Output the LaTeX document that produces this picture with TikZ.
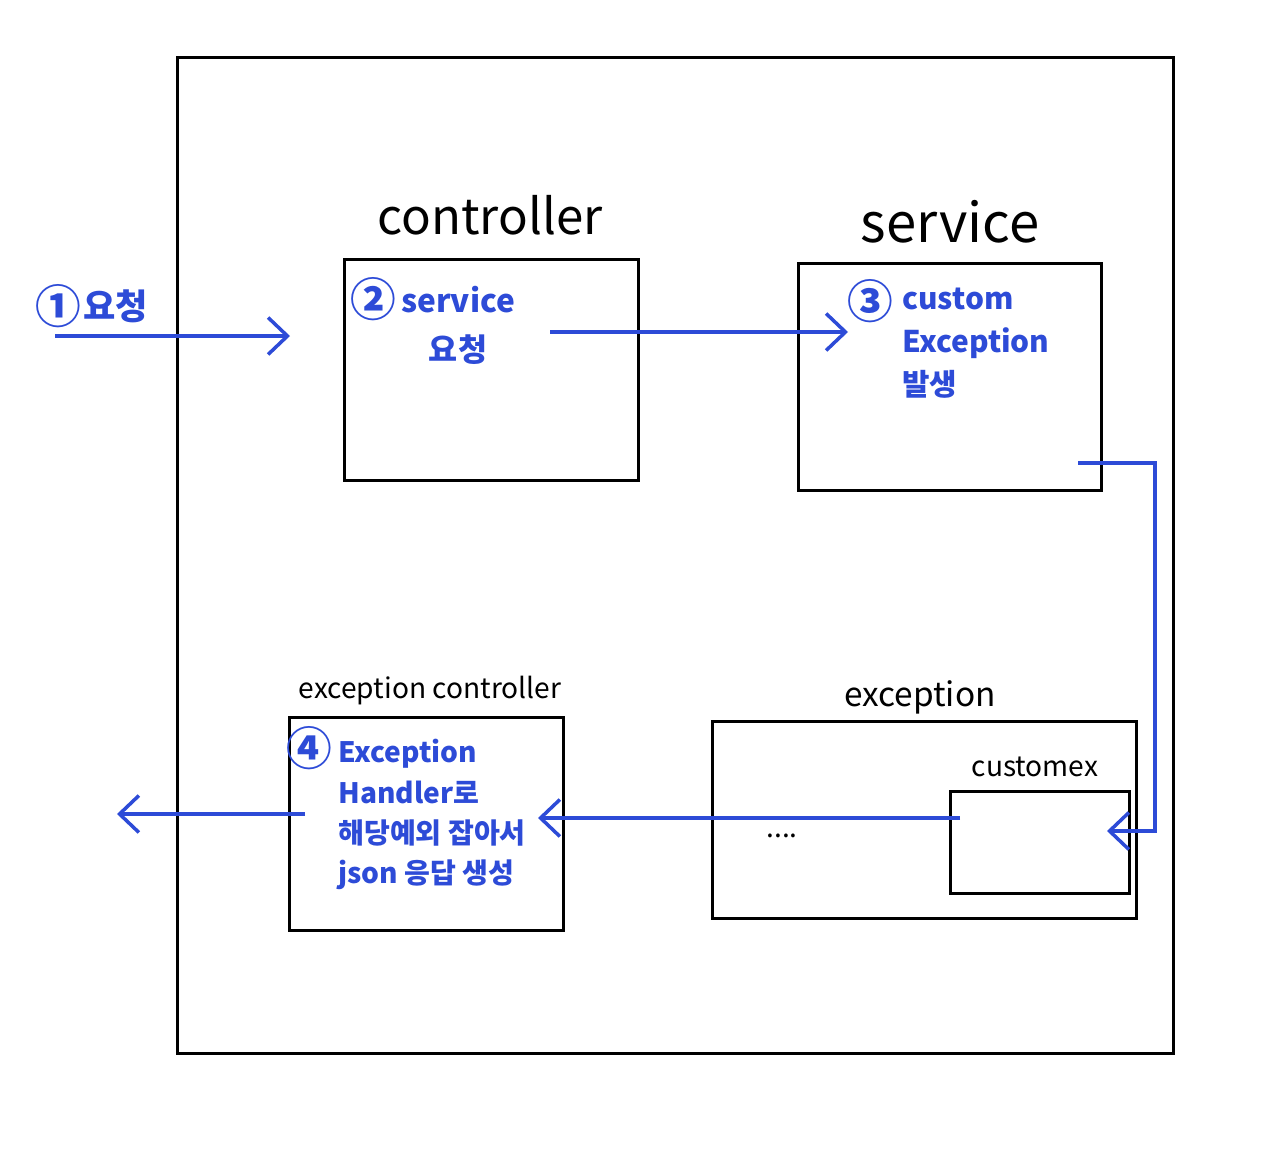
\documentclass[tikz,border=0pt]{standalone}
\usepackage{fontspec}
\newfontfamily\kr{Noto Sans CJK KR}
\usetikzlibrary{arrows.meta,positioning}
\definecolor{penblue}{RGB}{45,75,215}

\begin{document}
\begin{tikzpicture}[
        x=0.02cm, y=-0.02cm,
        box/.style={draw, line width=1.6pt, anchor=north west, inner sep=0pt},
        title/.style={font=\kr\fontsize{28}{32}\selectfont},
        small/.style={font=\kr\fontsize{16}{19}\selectfont},
        num/.style={text=penblue, font=\kr\bfseries\fontsize{26}{30}\selectfont, inner sep=0pt},
        note/.style={text=penblue, font=\kr\bfseries\fontsize{17}{24.5}\selectfont, align=left, inner sep=0pt},
        flow/.style={draw=penblue, line width=2pt,
            -{Straight Barb[length=11pt,width=21pt,line width=2pt]}},
    ]
    \useasboundingbox (0,0) rectangle (1272,1173);

    % frame and boxes
    \node[box, minimum width=19.92cm, minimum height=19.92cm] (frame) at (176,56) {};
    \node[box, minimum width=5.88cm, minimum height=4.42cm] (ctrl) at (343,258) {};
    \node[box, minimum width=6.06cm, minimum height=4.54cm] (svc) at (797,262) {};
    \node[box, minimum width=5.48cm, minimum height=4.26cm] (exctrl) at (288,716) {};
    \node[box, minimum width=8.48cm, minimum height=3.94cm] (exc) at (711,720) {};
    \node[box, minimum width=3.58cm, minimum height=2.04cm] (cust) at (949,790) {};

    % labels
    \node[title] (ctrl-lbl) at (490,215) {controller};
    \node[title, font=\kr\fontsize{31}{36}\selectfont] (svc-lbl) at (950,222) {service};
    \node[small] (exctrl-lbl) at (430,691) {exception controller};
    \node[title, font=\kr\fontsize{19}{22}\selectfont] (exc-lbl) at (920,697) {exception};
    \node[small] (cust-lbl) at (1035,767) {customex};
    \node[small] (dots) at (782,836) {....};

    % notes
    \node[num] (c1) at (58,306) {①};
    \node[note, font=\kr\bfseries\fontsize{20}{24}\selectfont, right=1pt of c1] (n1) {요청};
    \node[num] (c2) at (373,299) {②};
    \node[note, align=center, font=\kr\bfseries\fontsize{18}{28}\selectfont] (n2) at (458,325) {service\\요청};
    \node[num] (c3) at (870,301) {③};
    \node[note, anchor=north west] (n3) at (902,288) {custom\\Exception\\발생};
    \node[num] (c4) at (309,748) {④};
    \node[note, anchor=north west, font=\kr\bfseries\fontsize{16}{23}\selectfont] (n4) at (338,739)
        {Exception\\Handler로\\해당예외 잡아서\\json 응답 생성};

    % connector ends
    \coordinate (req-in) at (55,336);
    \coordinate (req-out) at (290,336);
    \coordinate (ctrl-out) at (550,332);
    \coordinate (svc-in) at (848,332);
    \coordinate (svc-out) at (1078,463);
    \coordinate (bend) at (1155,600);
    \coordinate (cust-in) at (1107,831);
    \coordinate (cust-out) at (960,818);
    \coordinate (exctrl-in) at (538,818);
    \coordinate (exctrl-out) at (305,814);
    \coordinate (resp) at (117,814);

    \draw[flow] (req-in) -- (req-out);
    \draw[flow] (ctrl-out) -- (svc-in);
    \draw[flow] (svc-out) -- (svc-out -| bend) -- (bend |- cust-in) -- (cust-in);
    \draw[flow] (cust-out) -- (exctrl-in);
    \draw[flow] (exctrl-out) -- (resp);
\end{tikzpicture}
\end{document}
